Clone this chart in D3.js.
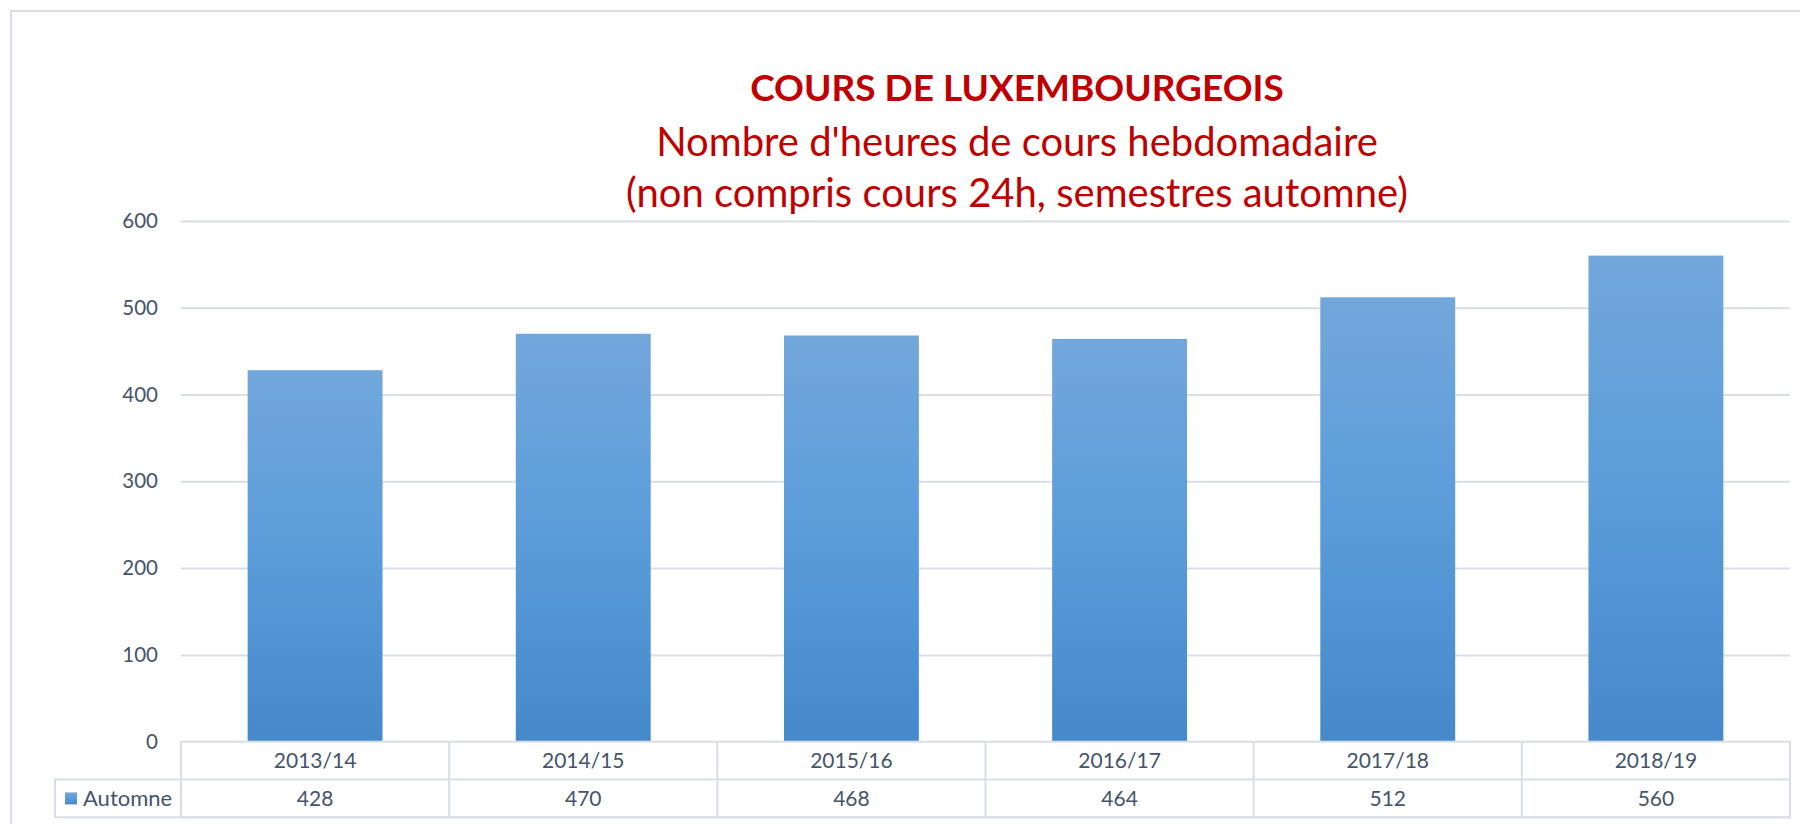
<!DOCTYPE html>
<html>
<head>
<meta charset="utf-8">
<script src="https://cdn.jsdelivr.net/npm/d3@7"></script>
<style>
  body { margin: 0; background: #fff; }
  svg { display: block; }
</style>
</head>
<body>
<script>
var width = 1800
var height = 824

// data
var categories = ["2013/14", "2014/15", "2015/16", "2016/17", "2017/18", "2018/19"];
var seriesName = "Automne";
var values = [428, 470, 468, 464, 512, 560];
var yTicks = [0, 100, 200, 300, 400, 500, 600];
var titleLines = ["COURS DE LUXEMBOURGEOIS", "Nombre d'heures de cours hebdomadaire", "(non compris cours 24h, semestres automne)"];

var textColor = "#44546A";
var gridColor = "#D9DEE6";
var titleColor = "#C00000";

var plot = {left: 181, right: 1790, top: 220.9, bottom: 741.7};
var rowH = 37.8;

var svg = d3.select("body").append("svg")
    .attr("width", width)
    .attr("height", height);

// bar gradient
var grad = svg.append("defs")
    .append("linearGradient")
    .attr("id", "barGrad")
    .attr("x1", 0).attr("y1", 0)
    .attr("x2", 0).attr("y2", 1);
grad.append("stop").attr("offset", "0%").attr("stop-color", "#72A7DB");
grad.append("stop").attr("offset", "50%").attr("stop-color", "#5A9CDA");
grad.append("stop").attr("offset", "100%").attr("stop-color", "#4589C9");

// outer frame
svg.append("rect")
    .attr("x", 11)
    .attr("y", 11)
    .attr("width", 1810)
    .attr("height", 830)
    .attr("fill", "none")
    .attr("stroke", gridColor)
    .attr("stroke-width", 2);

var y = d3.scaleLinear()
    .domain([0, 600])
    .range([plot.bottom, plot.top]);

var x = d3.scaleBand()
    .domain(categories)
    .range([plot.left, plot.right])
    .paddingInner(0.497)
    .paddingOuter(0.2485);

var cell = d3.scaleBand()
    .domain(categories)
    .range([plot.left, plot.right]);

// gridlines + labels
var yAxis = d3.axisLeft(y)
    .tickValues(yTicks)
    .tickSize(-(plot.right - plot.left))
    .tickPadding(23);

var gy = svg.append("g")
    .attr("transform", "translate(" + plot.left + ",0)")
    .call(yAxis);
gy.select(".domain").remove();
gy.selectAll(".tick line")
    .attr("stroke", gridColor)
    .attr("stroke-width", 2)
    .attr("display", function(d) { return d == 0 ? "none" : null; });
gy.selectAll(".tick text")
    .attr("fill", textColor)
    .style("font-family", "Lato, sans-serif")
    .style("font-size", "20.5px");

// bars
svg.append("g")
    .selectAll("rect")
    .data(values)
    .enter().append("rect")
    .attr("x", function(d, i) { return x(categories[i]); })
    .attr("y", function(d) { return y(d); })
    .attr("width", x.bandwidth())
    .attr("height", function(d) { return y(0) - y(d); })
    .attr("fill", "url(#barGrad)");

// data table
var table = svg.append("g")
    .attr("fill", "none")
    .attr("stroke", gridColor)
    .attr("stroke-width", 2);

table.append("rect")
    .attr("x", plot.left)
    .attr("y", plot.bottom)
    .attr("width", plot.right - plot.left)
    .attr("height", rowH * 2);

table.append("rect")
    .attr("x", 55)
    .attr("y", plot.bottom + rowH)
    .attr("width", plot.right - 55)
    .attr("height", rowH);

table.selectAll("line")
    .data(categories.slice(1))
    .enter().append("line")
    .attr("x1", function(d) { return cell(d); })
    .attr("x2", function(d) { return cell(d); })
    .attr("y1", plot.bottom)
    .attr("y2", plot.bottom + rowH * 2);

svg.append("g")
    .selectAll("text")
    .data(categories)
    .enter().append("text")
    .attr("x", function(d) { return cell(d) + cell.bandwidth() / 2; })
    .attr("y", plot.bottom + rowH / 2 + 7.5)
    .attr("text-anchor", "middle")
    .attr("fill", textColor)
    .style("font-family", "Lato, sans-serif")
    .style("font-size", "21px")
    .text(function(d) { return d; });

svg.append("g")
    .selectAll("text")
    .data(values)
    .enter().append("text")
    .attr("x", function(d, i) { return cell(categories[i]) + cell.bandwidth() / 2; })
    .attr("y", plot.bottom + rowH * 1.5 + 7.5)
    .attr("text-anchor", "middle")
    .attr("fill", textColor)
    .style("font-family", "Lato, sans-serif")
    .style("font-size", "21px")
    .text(function(d) { return d; });

// legend key in the table
svg.append("rect")
    .attr("x", 65)
    .attr("y", plot.bottom + rowH * 1.5 - 6)
    .attr("width", 12)
    .attr("height", 12)
    .attr("fill", "url(#barGrad)");

svg.append("text")
    .attr("x", 83)
    .attr("y", plot.bottom + rowH * 1.5 + 7.5)
    .attr("fill", textColor)
    .style("font-family", "Lato, sans-serif")
    .style("font-size", "22px")
    .text(seriesName);

// title
var titleY = [101, 156, 207];
svg.append("g")
    .selectAll("text")
    .data(titleLines)
    .enter().append("text")
    .attr("x", 1017)
    .attr("y", function(d, i) { return titleY[i]; })
    .attr("text-anchor", "middle")
    .attr("fill", titleColor)
    .style("font-family", "Lato, sans-serif")
    .style("font-weight", function(d, i) { return i == 0 ? "bold" : "normal"; })
    .style("font-size", function(d, i) { return i == 0 ? "37px" : "40px"; })
    .text(function(d) { return d; });
</script>
</body>
</html>
